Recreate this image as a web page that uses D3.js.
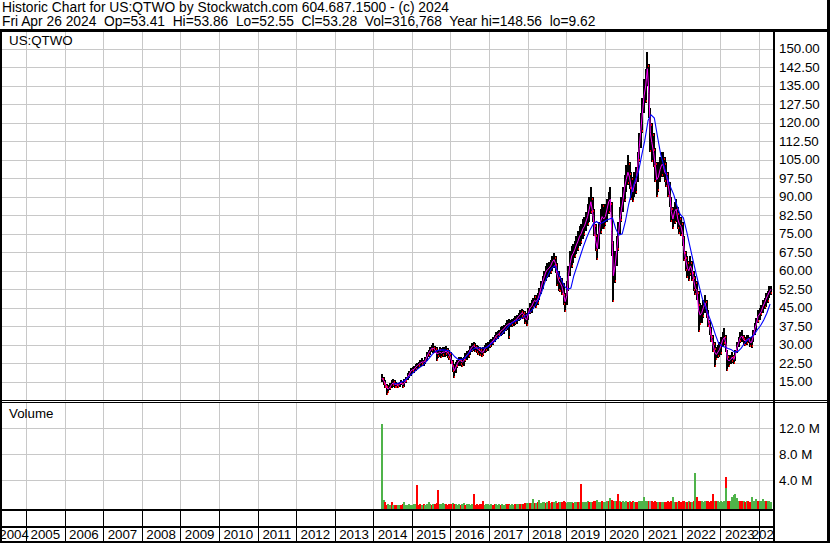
<!DOCTYPE html>
<html><head><meta charset="utf-8">
<script src="https://cdn.jsdelivr.net/npm/d3@7"></script>
<style>
body{margin:0;background:#fff}
svg{display:block}
text{font-family:"Liberation Sans",Arial,sans-serif;font-size:13.33px;fill:#000}
text.hdr{font-size:13.8px}
</style>
</head><body>
<svg id="c" width="830" height="543"></svg>
<script>
// ---------------- DATA ----------------
const header1 = "Historic Chart for US:QTWO by Stockwatch.com 604.687.1500 - (c) 2024";
const header2 = "Fri Apr 26 2024  Op=53.41  Hi=53.86  Lo=52.55  Cl=53.28  Vol=316,768  Year hi=148.56  lo=9.62";
const symbol = "US:QTWO";
const volumeTitle = "Volume";
const yearLabels = d3.range(2004, 2025);
const priceTicks = d3.range(15, 150.001, 7.5);
const volTicks = [4, 8, 12];           // millions
const volTickLabels = ["4.0 M", "8.0 M", "12.0 M"];

// half-month periods, first = 2nd half of Mar 2014, last = 2nd half of Apr 2024
const high = [
 18.0,17.0,15.5,14.0,13.5,14.5,15.5,16.0,15.5,15.0,14.5,15.0,15.5,15.0,16.0,17.0,18.5,19.5,20.5,
 21.0,21.5,22.0,22.5,23.0,24.0,24.5,24.0,25.0,27.0,28.0,29.0,30.0,30.7,29.5,29.0,28.0,29.0,28.5,29.0,29.0,29.5,28.5,28.0,
 27.0,24.0,22.0,23.0,24.0,25.0,25.0,24.5,25.0,26.5,27.5,28.0,29.5,30.5,31.0,30.5,30.0,29.5,29.0,28.5,29.0,30.0,30.5,31.0,
 32.0,32.5,33.0,34.0,35.0,35.5,36.0,37.0,37.5,38.0,39.0,40.0,40.5,40.0,40.5,41.0,41.5,42.0,43.0,44.0,44.5,44.0,43.5,43.0,
 45.0,47.0,48.0,49.0,50.0,50.0,51.0,53.0,56.0,58.0,60.0,62.0,63.0,63.5,64.5,66.0,67.3,66.0,63.0,60.0,58.0,57.0,55.0,51.0,
 56,62,68,70,71,72,74,76,78,79,81,82,84,87,90,94,90,85,79,75,80,85,87,87,
 87,89,92,94,88,72,68,74,80,86,90,94,99,103,107,104,100,98,100,102,108,116,124,130,
 138,142,148.6,144,126,120,116,110,104,104,106,108,108,106,104,100,96,90,86,88,89,86,84,82,
 80,74,68,66,64,66,64,60,58,56,52,47,46,48,50,48,44,40,37,34,31,29,30,31,
 33,35,36.8,34,28,26,26,27,26,28,31,33,35,36,34,33,34,34,33,33,36,39,41,44,
 45,46,48,49,51,52,54,54
];
const low = [
 15.0,13.7,12.5,9.6,10.5,11.5,12.5,13.0,12.5,12.5,12.5,13.0,13.5,12.5,13.0,14.5,15.5,16.5,17.5,
 18.5,18.5,19.5,20.0,20.5,21.0,21.5,21.5,22.0,23.5,25.0,26.0,27.0,26.5,26.5,23.5,24.5,25.0,24.5,25.0,25.0,25.5,24.5,24.0,
 22.0,19.0,16.5,18.5,20.5,21.5,21.5,21.0,21.5,23.0,24.0,24.5,26.0,27.0,27.5,27.0,26.5,26.0,25.5,25.0,25.5,26.5,27.0,27.5,
 28.5,29.0,30.0,31.0,32.0,32.5,33.0,33.5,34.0,34.5,35.5,36.0,32.5,37.0,37.0,37.5,38.0,38.5,39.5,40.0,41.0,40.5,38.5,37.5,
 40.0,42.5,43.0,44.5,45.5,45.0,46.0,48.0,50.5,52.5,54.5,56.0,57.0,57.5,58.5,60.0,61.0,59.0,54.0,52.0,51.5,50.0,46.0,43.3,
 46,52,58,61,63,65,67,68,70,71,73,74,76,78,80,83,80,74,68,64.4,69,75,77,77,
 78,80,83,84,66,47.3,55,62,68,75,80,84,88,92,95,93,88.7,88,90,91,96,104,110,116,
 124,128,135,122,108,104,102,96,90,92,96,98,98,96,94,90,86,80,77,79,80,77,75,74,
 70,64,60,57,56,58,56,52,50,48,35,38,39,41,43,41,37,34,31,27,21,24,24.5,25,
 26,29,30,27,19.5,21,22,22.6,22,23.5,26.5,29,30.5,31,30,29.5,30,30.5,29,28.5,31,34,36,39,
 40,41.5,43,44.5,45.5,47,49,50
];
// short moving average (magenta)
const maShort = [
 16.5,15.5,14.5,12.5,12.0,12.8,13.8,14.5,14.0,13.8,13.5,14.0,14.5,13.8,14.5,15.8,17.0,18.0,19.3,
 19.8,20.0,21.0,21.5,22.0,22.5,23.0,23.0,23.5,25.0,26.5,27.5,28.5,28.5,28.0,26.5,26.5,27.0,26.5,27.0,27.0,27.5,26.5,26.0,
 24.0,21.5,19.5,21.0,22.5,23.5,23.5,23.0,23.5,25.0,26.0,26.5,28.0,29.0,29.5,29.0,28.5,28.0,27.5,27.0,27.0,28.5,29.0,29.5,
 30.0,31.0,31.5,32.5,33.5,34.0,34.5,35.5,36.0,36.5,37.5,38.0,38.5,38.5,39.0,39.5,40.0,40.5,41.5,42.0,43.0,42.5,41.0,40.0,
 42.5,45.0,45.5,47.0,48.0,47.5,48.5,50.5,53.0,55.5,57.5,59.5,60.5,61.0,62.0,63.5,64.5,63.0,58.5,56.0,55.0,53.5,50.5,47.5,
 50,58,63,66,67,68.5,70.5,72,74,75,77,78,80,82,85,88,84,79,72,69,75,80,82,81,
 82,85,88,89,76,58,62,68,74,80,85,89,94,97,100,98,94,92,95,96,102,110,117,124,
 131,135,142,132,116,112,108,103,97,98,101,103,103,100,99,95,91,84,81,84,85,81,79,78,
 75,68,64,61,60,62,60,56,53,52,44,42,43,45,47,44,40,37,33,30,27,26,27,28,
 30,32,33,30,24,23.5,24,25,24,26,29,31,33,33.5,32,31.5,32,32.5,31,31,33.5,36.5,38.5,41.5,
 42.5,43.5,45.5,47,48.5,50,51.5,52.5
];
// long moving average (blue), monthly, first = Jul 2014
const maLong = [
 14.0,14.3,14.7,15.2,16.2,17.5,
 18.7,19.8,20.7,21.6,23.0,24.6,26.2,27.3,27.8,27.9,27.8,27.5,
 26.5,25.0,24.0,24.0,24.5,26.0,27.6,28.5,28.8,28.7,28.6,29.0,
 30.2,31.2,32.4,33.6,35.0,36.5,38.0,39.0,39.7,40.3,41.0,41.8,
 42.8,44.2,46.0,48.3,51.5,55.5,58.5,61.0,62.0,59.5,56.5,53.8,
 52.5,53.0,58.0,62.0,66.0,70.0,73.5,76.6,79.0,80.0,79.0,79.6,
 80.5,81.0,81.4,77.0,74.5,75.0,80.0,87.0,92.5,96.5,100.0,106.5,
 113.0,121.0,123.3,122.0,114.5,107.0,102.5,98.0,94.0,91.0,86.5,83.0,
 81.5,76.0,70.5,64.5,59.0,53.5,48.5,45.0,41.5,38.0,34.0,30.5,
 29.5,29.0,28.5,28.0,27.0,27.3,28.5,30.5,32.0,33.0,34.0,36.0,
 37.7,40.0,42.8,46.5
];
// volume per half-month period (millions), colour code g=up r=down n=unchanged
const volume = [
 12.65,1.0,0.66,0.3,0.35,0.3,0.66,0.25,0.3,0.2,0.25,0.3,0.2,0.35,0.66,0.3,0.25,0.4,0.3,
 0.3,0.35,0.4,3.3,0.3,0.45,0.3,0.35,0.3,0.4,0.66,0.35,0.3,0.4,0.35,0.5,2.55,0.4,0.35,0.5,0.4,0.35,0.3,0.45,
 0.4,0.5,0.45,0.35,0.3,0.35,0.3,0.35,0.5,0.3,0.35,0.4,0.3,0.35,1.9,0.3,0.35,0.3,0.4,0.35,0.85,0.3,0.4,0.35,
 0.3,0.35,0.3,0.4,0.35,0.3,0.4,0.3,0.35,0.3,0.4,0.45,0.4,0.3,0.35,0.3,0.4,0.35,0.45,0.4,0.35,0.4,0.5,0.5,
 0.5,0.55,0.6,1.15,0.6,0.55,0.7,1.0,0.6,0.7,0.65,0.6,0.7,0.85,0.6,0.65,0.7,0.85,0.6,0.75,0.75,0.7,0.8,0.7,
 0.6,0.7,0.65,0.75,0.6,0.7,0.65,0.7,0.75,3.4,0.7,0.65,0.7,0.85,0.7,0.75,0.7,0.85,0.8,1.0,0.7,0.75,0.8,0.7,
 0.75,0.8,0.9,1.27,1.0,0.9,0.8,0.85,2.0,0.8,0.66,0.8,0.75,0.8,0.75,0.8,0.7,0.8,0.75,0.7,0.75,0.8,0.9,0.85,
 1.4,0.9,0.85,0.8,0.85,0.8,0.75,0.8,0.75,0.7,0.66,0.75,0.7,0.75,0.66,0.8,0.75,0.8,1.5,0.75,0.7,0.75,0.8,0.7,
 0.85,0.8,0.7,0.75,0.8,0.75,0.7,0.8,5.15,1.4,0.85,0.9,0.8,0.75,0.8,0.85,0.8,0.75,0.8,1.9,0.8,0.85,0.8,0.75,
 0.8,0.75,0.85,4.5,0.9,0.8,0.85,1.5,1.8,1.9,1.3,0.85,0.8,0.85,0.8,0.75,0.85,0.8,0.75,1.5,0.9,0.8,1.15,0.9,
 0.85,0.9,1.15,0.9,0.85,0.8,0.85,0.7
];
const volumeDir = (
 "ggrrggrgrrggrrggggg" +
 "gggrrrgrggggrgrrrggggrrr" +
 "rgrgggrggrggggrrrrrrrggg" +
 "ggrrgggrgggrrgggrggrgrrg" +
 "grggrgrggggrgrgrggrrgrrr" +
 "ggggrggrgrggggrgrrrgggrg" +
 "ggrgrrgrrgrgggrgrrgrrggg" +
 "gggrnrrrrgrggrrrrrggrgrr" +
 "rrgrgrgrgrrrgggrrrrrgrgg" +
 "gggrrrggggggrrgrgrrggggr" +
 "ggggrggg").split("");
// second bar drawn on the same period (2nd half Feb 2023)
const overlayPeriod = [[2023, 2, 2]];
const overlayVolume = [2.8];
const overlayDir = ["g"];

// ---------------- LAYOUT ----------------
const plotL = 2, plotR = 774, priceTop = 32, priceBot = 400, volTop = 403, volBot = 509;
const GRID = "#c8c8c8";
const volColor = {g: "#4fb34a", r: "#ff0000", n: "#a0a0a0"};

function periodDate(i) {
  const k = (2014 * 12 + 2) * 2 + 1 + i;
  const yy = Math.floor(k / 24), mm = Math.floor((k % 24) / 2), hh = k % 2;
  return new Date(yy, mm, hh ? 23 : 8);
}
function periodIndex(yy, m, h) { return (yy * 12 + (m - 1)) * 2 + (h - 1) - ((2014 * 12 + 2) * 2 + 1); }
function longDate(j) { return new Date(2014, 6 + j, 15); }

const x = d3.scaleTime().domain([new Date(2004, 4, 18), new Date(2024, 4, 22)]).range([plotL, plotR]);
const y = d3.scaleLinear().domain([7.57, 157.3]).range([400, 31]);
const yv = d3.scaleLinear().domain([0, 16.03]).range([506.6, 402]);

const svg = d3.select("#c");
const defs = svg.append("defs");
defs.append("clipPath").attr("id", "cp").append("rect").attr("x", plotL).attr("y", priceTop).attr("width", plotR - plotL - 1).attr("height", priceBot - priceTop);
defs.append("clipPath").attr("id", "cv").append("rect").attr("x", plotL).attr("y", volTop).attr("width", plotR - plotL - 1).attr("height", volBot - volTop);
defs.append("clipPath").attr("id", "cx").append("rect").attr("x", plotL).attr("y", 509).attr("width", plotR - plotL - 1).attr("height", 34);

svg.append("rect").attr("width", 830).attr("height", 543).attr("fill", "#fff");

const yearStarts = d3.timeYear.range(new Date(2005, 0, 1), new Date(2024, 0, 2));
const px = d => Math.round(x(d)) + 0.5;

// grid
const grid = svg.append("g").attr("stroke", GRID).attr("stroke-width", 1).attr("shape-rendering", "crispEdges");
grid.selectAll(".vp").data(yearStarts).join("line").attr("x1", px).attr("x2", px).attr("y1", priceTop).attr("y2", priceBot);
grid.selectAll(".vv").data(yearStarts).join("line").attr("x1", px).attr("x2", px).attr("y1", volTop).attr("y2", volBot);
grid.selectAll(".hp").data(priceTicks).join("line").attr("x1", plotL).attr("x2", plotR - 1)
  .attr("y1", d => Math.round(y(d)) + 0.5).attr("y2", d => Math.round(y(d)) + 0.5);
grid.selectAll(".hv").data(volTicks).join("line").attr("x1", plotL).attr("x2", plotR - 1)
  .attr("y1", d => Math.round(yv(d)) + 0.5).attr("y2", d => Math.round(yv(d)) + 0.5);

// price bars
const gp = svg.append("g").attr("clip-path", "url(#cp)");
gp.append("g").attr("shape-rendering", "crispEdges").selectAll("rect").data(high).join("rect")
  .attr("x", (d, i) => x(periodDate(i)) - 1).attr("width", 2)
  .attr("y", (d, i) => y(high[i])).attr("height", (d, i) => Math.max(1, y(low[i]) - y(high[i])))
  .attr("fill", "#000");
const downIdx = d3.range(1, maShort.length).filter(i => maShort[i] < maShort[i - 1]);
const upIdx = d3.range(1, maShort.length).filter(i => maShort[i] >= maShort[i - 1]);
const redG = gp.append("g").attr("shape-rendering", "crispEdges").attr("fill", "#ff0000");
redG.selectAll(".rl").data(downIdx).join("rect")
  .attr("x", i => x(periodDate(i))).attr("width", 1)
  .attr("y", i => y(low[i]) - 2).attr("height", 2);
redG.selectAll(".rh").data(downIdx).join("rect")
  .attr("x", i => x(periodDate(i)) - 1).attr("width", 1)
  .attr("y", i => y(high[i]) + 1).attr("height", 2);
redG.selectAll(".ru").data(upIdx.filter((d, k) => k % 2 === 0)).join("rect")
  .attr("x", i => x(periodDate(i))).attr("width", 1)
  .attr("y", i => y(low[i]) - 3).attr("height", 2);
gp.append("path").datum(maShort).attr("fill", "none").attr("stroke", "#ff00ff").attr("stroke-width", 1)
  .attr("d", d3.line().x((d, i) => x(periodDate(i))).y(d => y(d)));
gp.append("path").datum(maLong).attr("fill", "none").attr("stroke", "#0000ff").attr("stroke-width", 1.1)
  .attr("d", d3.line().x((d, j) => x(longDate(j))).y(d => y(d)));

// volume bars
const gv = svg.append("g").attr("clip-path", "url(#cv)").attr("shape-rendering", "crispEdges");
gv.selectAll(".vb").data(volume).join("rect")
  .attr("x", (d, i) => x(periodDate(i)) - 1).attr("width", 2)
  .attr("y", d => yv(d)).attr("height", d => 509 - yv(d))
  .attr("fill", (d, i) => volColor[volumeDir[i]]);
gv.selectAll(".vo").data(overlayVolume).join("rect")
  .attr("x", (d, k) => x(periodDate(periodIndex(...overlayPeriod[k]))) - 1).attr("width", 2)
  .attr("y", d => yv(d)).attr("height", d => 509 - yv(d))
  .attr("fill", (d, k) => volColor[overlayDir[k]]);

// frame
const fr = svg.append("g").attr("fill", "#000").attr("shape-rendering", "crispEdges");
fr.append("rect").attr("x", 0).attr("y", 29).attr("width", 830).attr("height", 3);
fr.append("rect").attr("x", 0).attr("y", 29).attr("width", 2).attr("height", 514);
fr.append("rect").attr("x", 827).attr("y", 0).attr("width", 3).attr("height", 543);
fr.append("rect").attr("x", 773).attr("y", 29).attr("width", 2).attr("height", 514);
fr.append("rect").attr("x", 0).attr("y", 400).attr("width", 830).attr("height", 1);
fr.append("rect").attr("x", 0).attr("y", 402).attr("width", 830).attr("height", 1);
fr.append("rect").attr("x", 0).attr("y", 509).attr("width", 775).attr("height", 2);
fr.append("rect").attr("x", 0).attr("y", 526).attr("width", 775).attr("height", 2);
fr.append("rect").attr("x", 0).attr("y", 541).attr("width", 830).attr("height", 2);
svg.append("g").attr("stroke", "#000").attr("shape-rendering", "crispEdges").selectAll("line").data(yearStarts).join("line")
  .attr("x1", px).attr("x2", px).attr("y1", 511).attr("y2", 541);

// texts
svg.append("text").attr("class", "hdr").attr("x", 2).attr("y", 11.5).style("white-space", "pre").text(header1);
svg.append("text").attr("class", "hdr").attr("x", 2).attr("y", 26.3).style("white-space", "pre").text(header2);
svg.append("text").attr("x", 9).attr("y", 45).text(symbol);
svg.append("text").attr("x", 9).attr("y", 417.7).text(volumeTitle);
svg.append("g").selectAll("text").data(priceTicks).join("text")
  .attr("x", 779).attr("y", d => y(d) + 4.5).text(d3.format(".2f"));
svg.append("g").selectAll("text").data(volTicks).join("text")
  .attr("x", 779).attr("y", d => yv(d) + 4.7).text((d, i) => volTickLabels[i]);
svg.append("g").attr("clip-path", "url(#cx)").selectAll("text").data(yearLabels).join("text")
  .attr("text-anchor", "middle").attr("y", 539.3)
  .attr("x", yy => {
    const a = Math.max(plotL, x(new Date(yy, 0, 1)));
    const b = Math.min(plotR, x(new Date(yy + 1, 0, 1)));
    return (a + b) / 2;
  })
  .text(d => d);
</script>
</body></html>
